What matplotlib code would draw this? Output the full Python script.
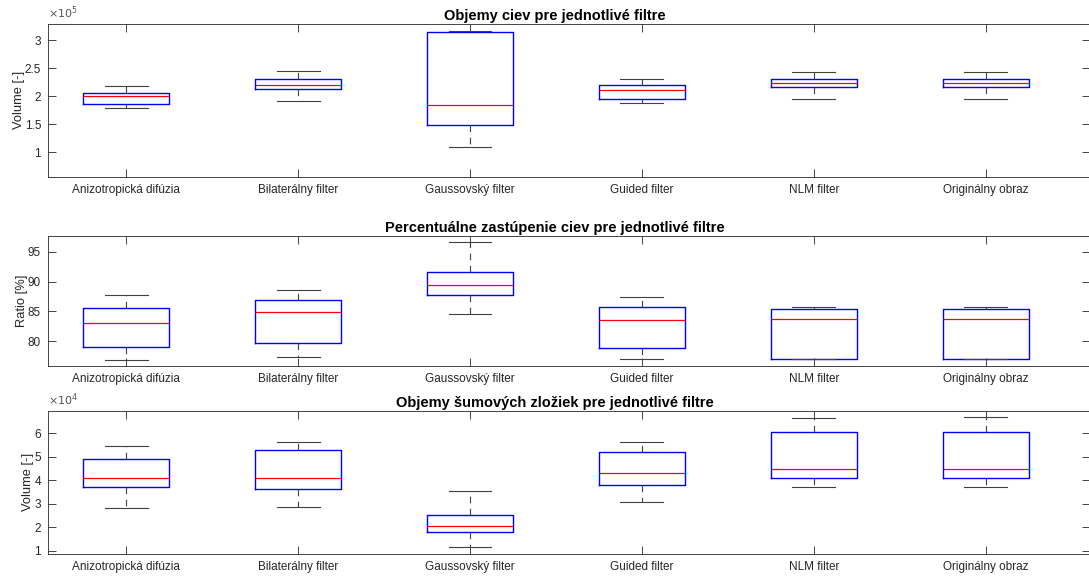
import matplotlib
matplotlib.use("Agg")
import matplotlib.pyplot as plt
from matplotlib.ticker import FuncFormatter

plt.rcParams["font.family"] = ["Liberation Sans", "DejaVu Sans"]

filters = ["Anizotropická difúzia", "Bilaterálny filter", "Gaussovský filter",
           "Guided filter", "NLM filter", "Originálny obraz"]

# Objemy ciev (Volume [-])
vol_lo = [179500, 192000, 109600, 187400, 195000, 195000]
vol_q1 = [185600, 212300, 148200, 194500, 215800, 215800]
vol_med = [199800, 219900, 184300, 211000, 224000, 224000]
vol_q3 = [205700, 231100, 313700, 219900, 231100, 231100]
vol_hi = [217600, 245400, 316000, 230000, 243000, 243000]

# Percentualne zastupenie ciev (Ratio [%])
rat_lo = [76.8, 77.4, 84.6, 77.0, 77.0, 77.0]
rat_q1 = [79.1, 79.8, 87.7, 78.9, 77.0, 77.0]
rat_med = [83.0, 84.9, 89.5, 83.6, 83.7, 83.7]
rat_q3 = [85.5, 87.0, 91.6, 85.7, 85.4, 85.4]
rat_hi = [87.8, 88.6, 96.7, 87.4, 85.8, 85.8]

# Objemy sumovych zloziek (Volume [-])
noi_lo = [28300, 28600, 11400, 30600, 37300, 37300]
noi_q1 = [37100, 36400, 17800, 38000, 41000, 41000]
noi_med = [40900, 40800, 20500, 43200, 44700, 44800]
noi_q3 = [49100, 53000, 25100, 51900, 60400, 60700]
noi_hi = [54500, 56200, 35600, 56200, 66600, 66900]

titles = ["Objemy ciev pre jednotlivé filtre",
          "Percentuálne zastúpenie ciev pre jednotlivé filtre",
          "Objemy šumových zložiek pre jednotlivé filtre"]
ylabels = ["Volume [-]", "Ratio [%]", "Volume [-]"]
scales = [1e5, 1, 1e4]
ylims = [(0.566e5, 3.285e5), (75.92, 97.63), (0.872e4, 6.96e4)]
yticks = [[1e5, 1.5e5, 2e5, 2.5e5, 3e5], [80, 85, 90, 95],
          [1e4, 2e4, 3e4, 4e4, 5e4, 6e4]]
data = [(vol_lo, vol_q1, vol_med, vol_q3, vol_hi),
        (rat_lo, rat_q1, rat_med, rat_q3, rat_hi),
        (noi_lo, noi_q1, noi_med, noi_q3, noi_hi)]

W, H = 1089, 579
fig = plt.figure(figsize=(W / 100, H / 100), dpi=100)

# axes rectangles in pixels: (top, bottom)
rows = [(24, 176.7), (236, 365.7), (410.7, 553.7)]
left_px, right_px = 48, 1090
gray = "#262626"

for k in range(3):
    top, bot = rows[k]
    ax = fig.add_axes([left_px / W, 1 - bot / H, (right_px - left_px) / W, (bot - top) / H])
    lo, q1, med, q3, hi = data[k]
    stats = []
    for i in range(len(filters)):
        stats.append({"whislo": lo[i], "q1": q1[i], "med": med[i],
                      "q3": q3[i], "whishi": hi[i], "fliers": []})
    ax.bxp(stats, positions=range(1, 7), widths=0.5, showfliers=False,
           boxprops=dict(color="blue", linewidth=1.0),
           medianprops=dict(color="red", linewidth=0.9),
           whiskerprops=dict(color="#404040", linewidth=0.8, linestyle=(0, (6, 5))),
           capprops=dict(color="#404040", linewidth=0.8),
           capwidths=0.25)
    ax.set_xlim(0.545, 6.607)
    ax.set_ylim(*ylims[k])
    ax.set_yticks(yticks[k])
    s = scales[k]
    ax.yaxis.set_major_formatter(FuncFormatter(lambda v, p, s=s: f"{v / s:g}"))
    ax.set_xticks(range(1, 7))
    ax.set_xticklabels(filters)
    ax.tick_params(direction="in", length=6, width=0.6, colors=gray,
                   labelsize=8.5, top=True, right=True)
    ax.tick_params(axis="x", pad=5)
    ax.tick_params(axis="y", pad=5)
    for sp in ax.spines.values():
        sp.set_color(gray)
        sp.set_linewidth(0.6)
    ax.set_ylabel(ylabels[k], fontsize=9.3, color=gray, labelpad=0)
    ax.set_title(titles[k], fontsize=10.5, fontweight="bold", x=0.4866, pad=3)
    if s != 1:
        exp = 5 if s == 1e5 else 4
        ax.text(0, 1.02, r"$\times10^{%d}$" % exp, transform=ax.transAxes,
                fontsize=8, color="#555555", ha="left", va="bottom")

fig.savefig("out.png", dpi=100)
